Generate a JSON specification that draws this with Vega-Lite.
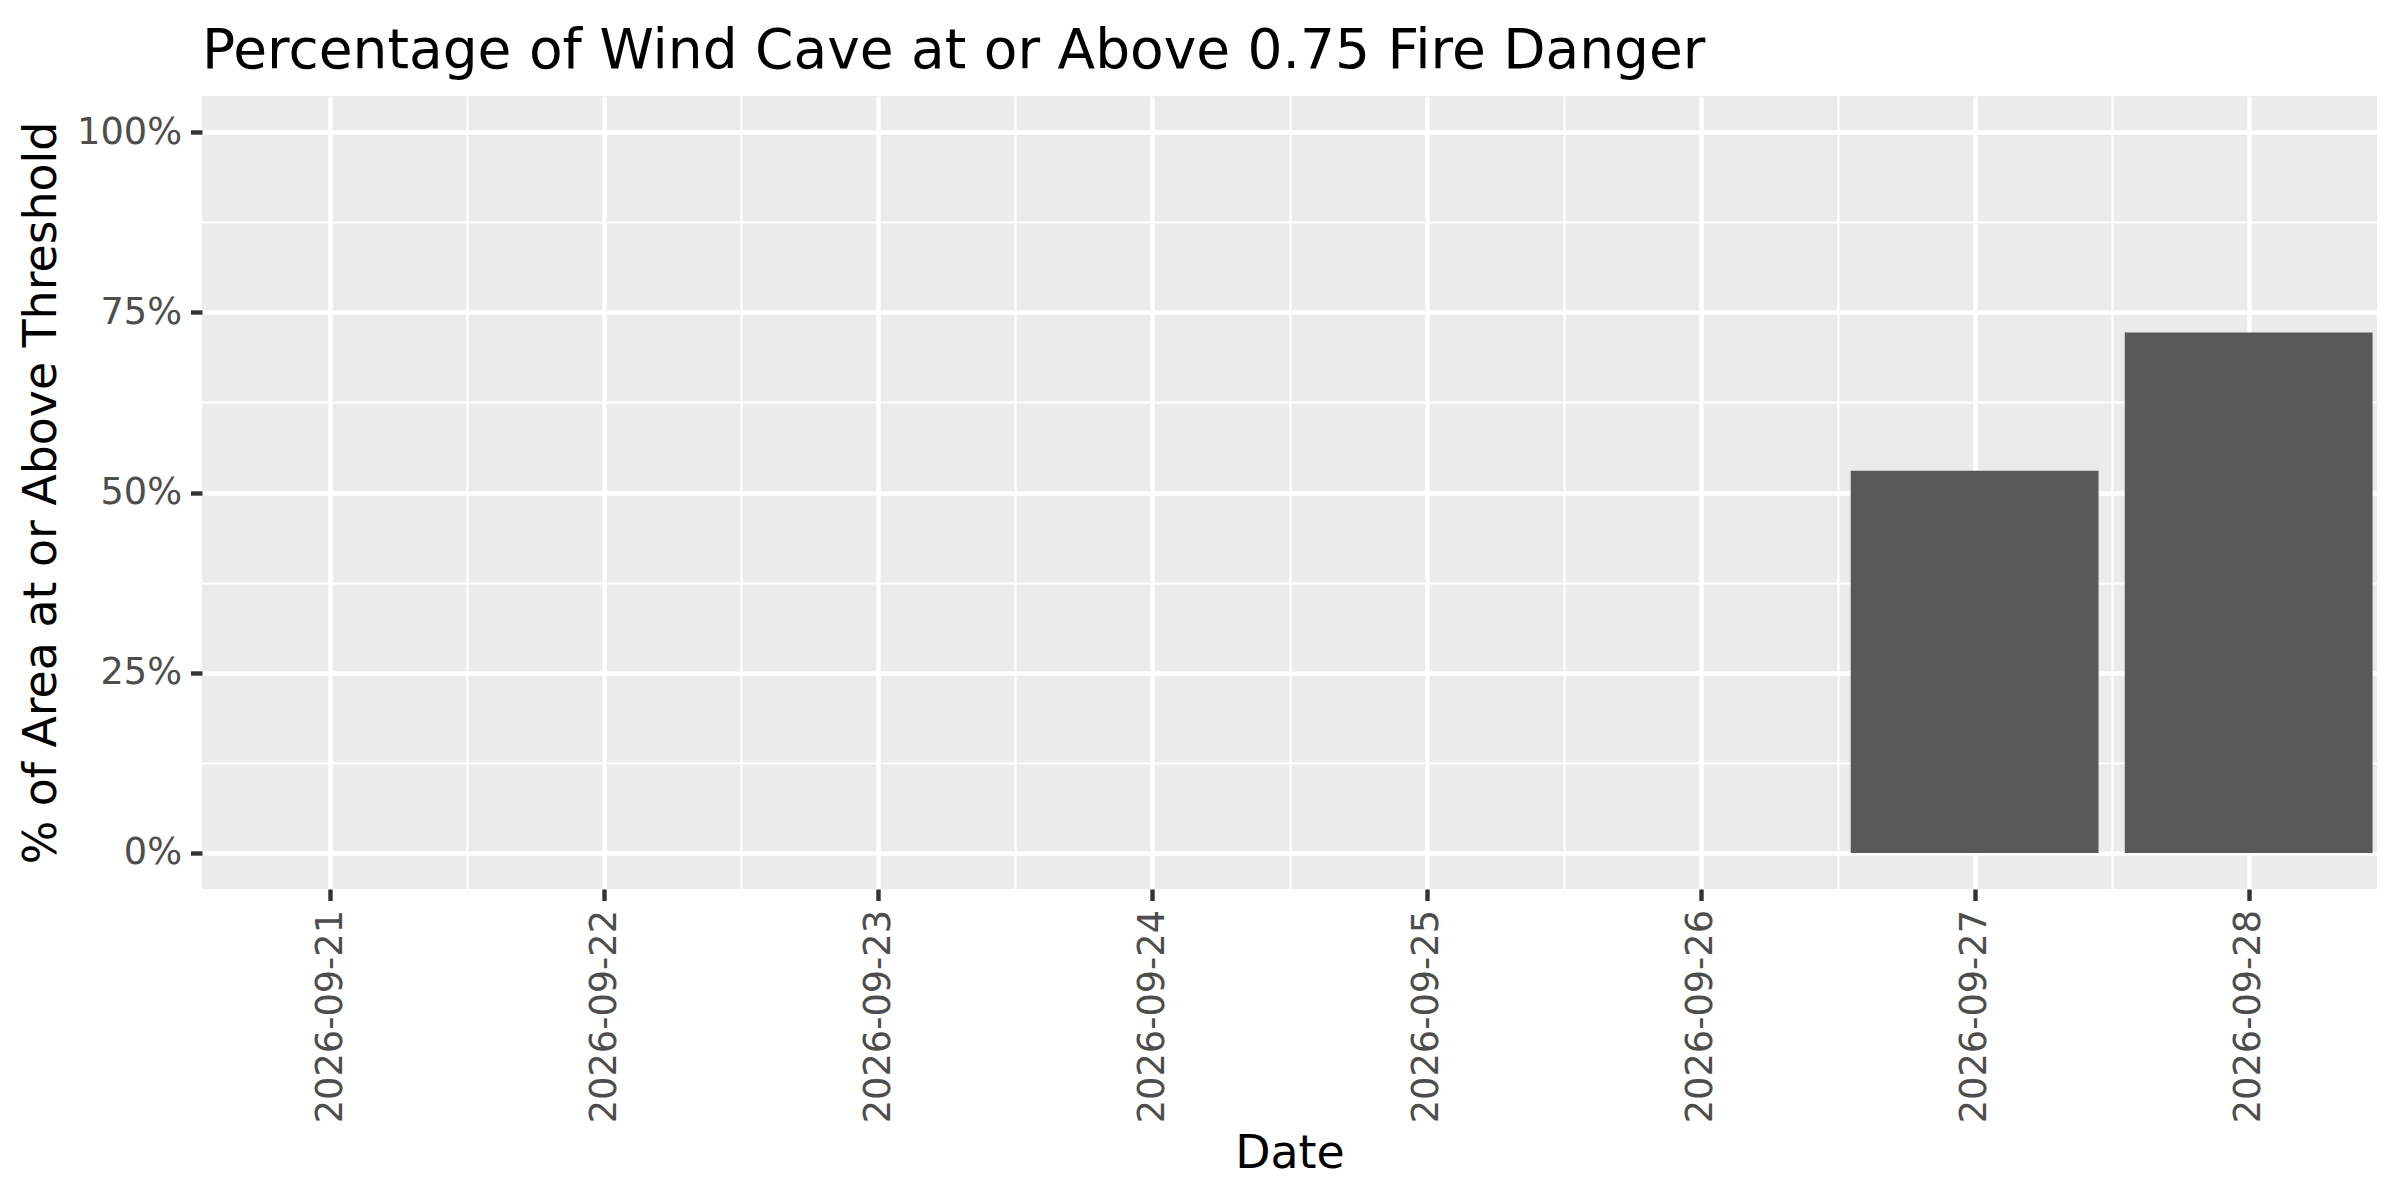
{
  "$schema": "https://vega.github.io/schema/vega-lite/v6.json",
  "width": 2175,
  "height": 793,
  "autosize": {"type": "none"},
  "padding": {"left": 202, "top": 96, "right": 23, "bottom": 311},
  "background": "white",
  "config": {
    "font": "DejaVu Sans",
    "view": {"fill": "#EBEBEB", "stroke": null}
  },
  "title": {
    "text": "Percentage of Wind Cave at or Above 0.75 Fire Danger",
    "anchor": "start",
    "frame": "group",
    "font": "DejaVu Sans",
    "fontSize": 55,
    "fontWeight": "normal",
    "color": "black",
    "baseline": "alphabetic",
    "offset": 35,
    "dy": 62
  },
  "data": {
    "values": [
      {"date": "2026-09-21", "pct": 0},
      {"date": "2026-09-22", "pct": 0},
      {"date": "2026-09-23", "pct": 0},
      {"date": "2026-09-24", "pct": 0},
      {"date": "2026-09-25", "pct": 0},
      {"date": "2026-09-26", "pct": 0},
      {"date": "2026-09-27", "pct": 0.53},
      {"date": "2026-09-28", "pct": 0.722}
    ],
    "format": {"parse": {"date": "utc:'%Y-%m-%d'"}}
  },
  "layer": [
    {
      "mark": {"type": "bar", "width": 247.8, "color": "#595959"},
      "encoding": {
        "x": {
          "field": "date",
          "type": "temporal",
          "scale": {
            "type": "utc",
            "domain": [
              {"year": 2026, "month": 9, "date": 20, "hours": 13, "minutes": 12, "utc": true},
              {"year": 2026, "month": 9, "date": 28, "hours": 10, "minutes": 48, "utc": true}
            ],
            "nice": false
          },
          "axis": {
            "values": [
              {"year": 2026, "month": 9, "date": 21, "utc": true},
              {"year": 2026, "month": 9, "date": 22, "utc": true},
              {"year": 2026, "month": 9, "date": 23, "utc": true},
              {"year": 2026, "month": 9, "date": 24, "utc": true},
              {"year": 2026, "month": 9, "date": 25, "utc": true},
              {"year": 2026, "month": 9, "date": 26, "utc": true},
              {"year": 2026, "month": 9, "date": 27, "utc": true},
              {"year": 2026, "month": 9, "date": 28, "utc": true}
            ],
            "labelExpr": "utcFormat(datum.value, '%Y-%m-%d')",
            "labelAngle": -90,
            "labelFont": "DejaVu Sans",
            "labelFontSize": 36.7,
            "labelColor": "#4D4D4D",
            "labelPadding": 9,
            "labelLimit": 0,
            "labelOverlap": false,
            "labelFlush": false,
            "tickSize": 11.5,
            "tickWidth": 4.4,
            "tickColor": "#333333",
            "domain": false,
            "grid": true,
            "gridColor": "white",
            "gridWidth": 4.4,
            "gridOpacity": 1,
            "title": "Date",
            "titleFont": "DejaVu Sans",
            "titleFontSize": 45.8,
            "titleFontWeight": "normal",
            "titleColor": "black",
            "titleBaseline": "alphabetic",
            "titleY": 278
          }
        },
        "y": {
          "field": "pct",
          "type": "quantitative",
          "scale": {"domain": [-0.05, 1.05], "nice": false, "zero": false},
          "axis": {
            "values": [0, 0.25, 0.5, 0.75, 1],
            "format": ".0%",
            "labelFont": "DejaVu Sans",
            "labelFontSize": 36.7,
            "labelColor": "#4D4D4D",
            "labelPadding": 9,
            "tickSize": 11.5,
            "tickWidth": 4.4,
            "tickColor": "#333333",
            "domain": false,
            "grid": true,
            "gridColor": "white",
            "gridWidth": 4.4,
            "gridOpacity": 1,
            "title": "% of Area at or Above Threshold",
            "titleFont": "DejaVu Sans",
            "titleFontSize": 45.8,
            "titleFontWeight": "normal",
            "titleColor": "black",
            "titlePadding": 11.5
          }
        }
      }
    },
    {
      "mark": {"type": "bar", "width": 247.8, "opacity": 0},
      "encoding": {
        "x": {
          "field": "date",
          "type": "temporal",
          "axis": {
            "orient": "top",
            "values": [
              {"year": 2026, "month": 9, "date": 21, "hours": 12, "utc": true},
              {"year": 2026, "month": 9, "date": 22, "hours": 12, "utc": true},
              {"year": 2026, "month": 9, "date": 23, "hours": 12, "utc": true},
              {"year": 2026, "month": 9, "date": 24, "hours": 12, "utc": true},
              {"year": 2026, "month": 9, "date": 25, "hours": 12, "utc": true},
              {"year": 2026, "month": 9, "date": 26, "hours": 12, "utc": true},
              {"year": 2026, "month": 9, "date": 27, "hours": 12, "utc": true}
            ],
            "labels": false,
            "ticks": false,
            "domain": false,
            "title": null,
            "grid": true,
            "gridColor": "white",
            "gridWidth": 2.2,
            "gridOpacity": 1
          }
        },
        "y": {
          "field": "pct",
          "type": "quantitative",
          "axis": {
            "orient": "right",
            "values": [0.125, 0.375, 0.625, 0.875],
            "labels": false,
            "ticks": false,
            "domain": false,
            "title": null,
            "grid": true,
            "gridColor": "white",
            "gridWidth": 2.2,
            "gridOpacity": 1
          }
        }
      }
    }
  ],
  "resolve": {"axis": {"x": "independent", "y": "independent"}}
}
